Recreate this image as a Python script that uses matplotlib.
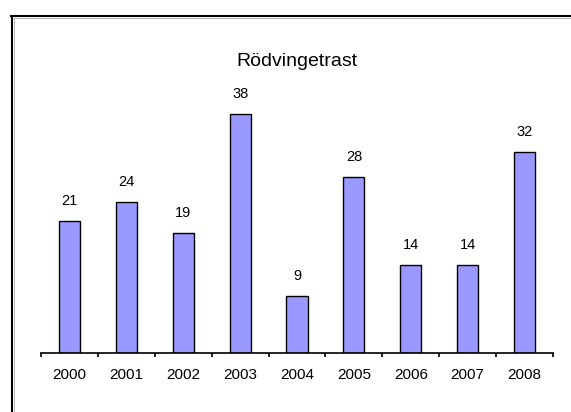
import matplotlib
matplotlib.use("Agg")
import matplotlib.pyplot as plt
from matplotlib.lines import Line2D

years = ["2000", "2001", "2002", "2003", "2004", "2005", "2006", "2007", "2008"]
values = [21, 24, 19, 38, 9, 28, 14, 14, 32]
title = "Rödvingetrast"

plt.rcParams['font.family'] = ['Liberation Sans', 'DejaVu Sans']

W, H = 571, 412
fig = plt.figure(figsize=(W / 100, H / 100), dpi=100)
fig.patch.set_facecolor("white")

# outer border (left and top visible)
fig.add_artist(Line2D([11.5 / W, 11.5 / W], [0, 1 - 15.5 / H], transform=fig.transFigure,
                      color="black", lw=1.5))
fig.add_artist(Line2D([11 / W, 1], [1 - 15.5 / H, 1 - 15.5 / H], transform=fig.transFigure,
                      color="black", lw=1.5))
fig.add_artist(Line2D([13.5 / W, 13.5 / W], [0, 1 - 17.5 / H], transform=fig.transFigure,
                      color="#bbbbbb", lw=0.8))
fig.add_artist(Line2D([13 / W, 1], [1 - 17.5 / H, 1 - 17.5 / H], transform=fig.transFigure,
                      color="#bbbbbb", lw=0.8))

ymax = 40
px_per_unit = 6.29
base_y = 353
top_y = base_y - ymax * px_per_unit
left_x, right_x = 41, 553
ax = fig.add_axes([left_x / W, (H - base_y) / H, (right_x - left_x) / W, (base_y - top_y) / H])
ax.set_facecolor("none")

x = list(range(len(years)))
bars = ax.bar(x, values, width=0.37, color="#9999FF", edgecolor="black", linewidth=1.0)
ax.set_xlim(-0.5, len(years) - 0.5)
ax.set_ylim(0, ymax)

for xi, v in zip(x, values):
    ax.annotate(str(v), (xi, v), xytext=(0, 20), textcoords="offset pixels",
                ha="center", va="center", fontsize=10.5)

for s in ["top", "right", "left"]:
    ax.spines[s].set_visible(False)
ax.spines["bottom"].set_linewidth(1.2)
ax.set_yticks([])
ax.set_xticks(x)
ax.set_xticklabels(years, fontsize=11)
ax.tick_params(axis="x", which="major", length=0, pad=11)
ax.set_xticks([i - 0.5 for i in range(len(years) + 1)], minor=True)
ax.tick_params(axis="x", which="minor", length=3, width=1.2, direction="out")

fig.text(297 / W, 1 - 62 / H, title, ha="center", va="center", fontsize=14)

fig.savefig("out.png", dpi=100)
